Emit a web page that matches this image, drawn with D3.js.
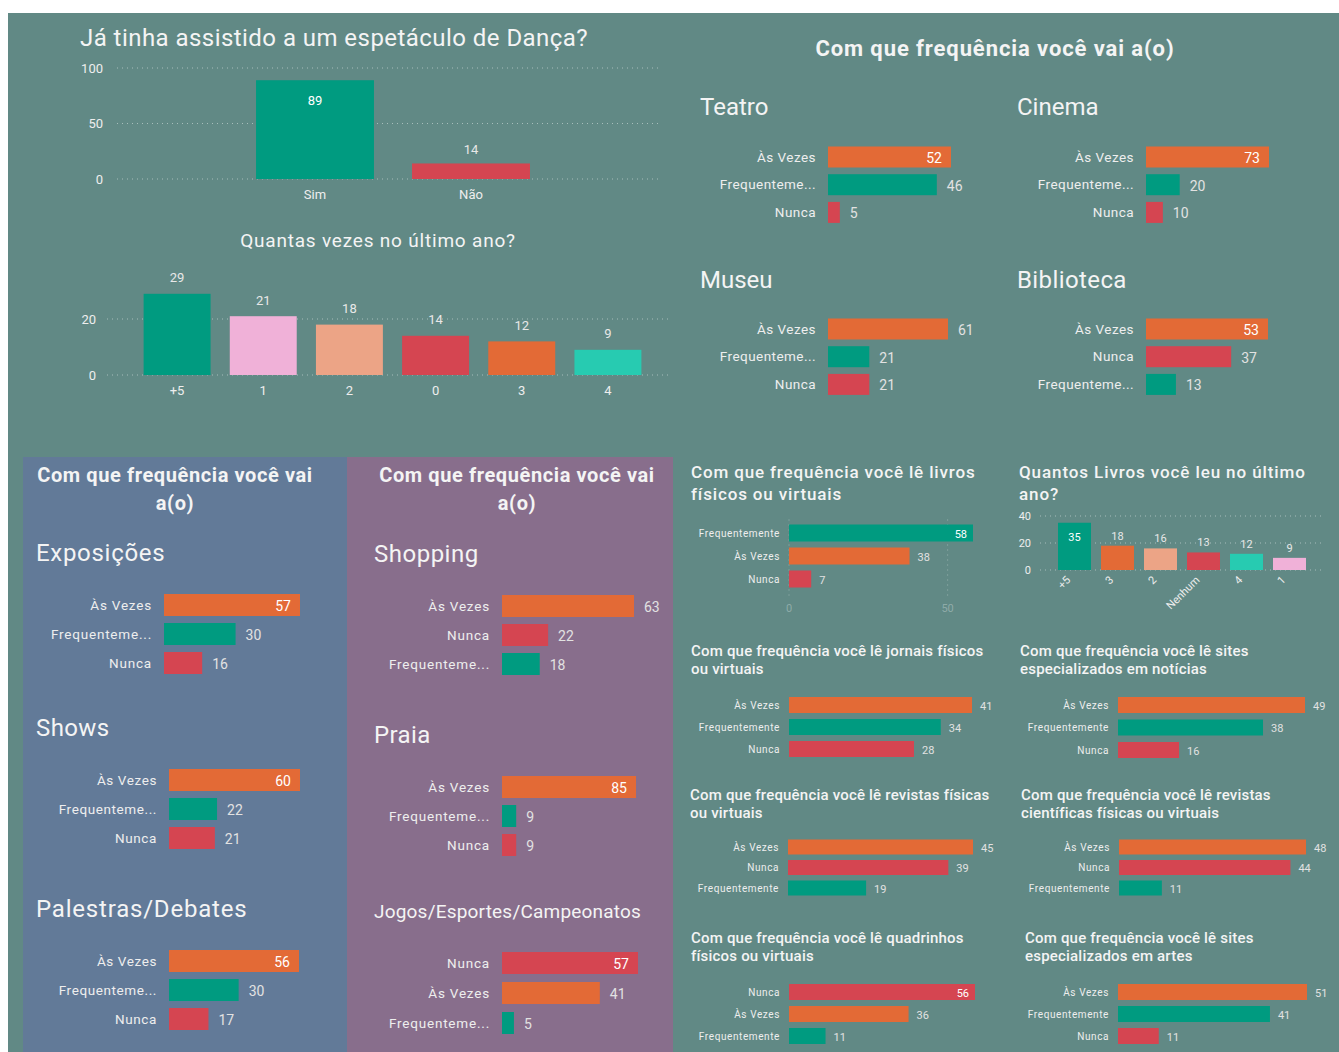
<!DOCTYPE html>
<html>
<head>
<meta charset="utf-8">
<script src="https://cdn.jsdelivr.net/npm/d3@7"></script>
<style>
  body { margin: 0; background: #fff; font-family: Roboto, "Noto Sans", sans-serif; }
  text { font-family: Roboto, "Noto Sans", sans-serif; }
</style>
</head>
<body>
<div id="dash"></div>
<script>
// ---- data ----
const dancaCats = ["Sim", "Não"];
const dancaVals = [89, 14];
const dancaTicks = [0, 50, 100];

const vezesCats = ["+5", "1", "2", "0", "3", "4"];
const vezesVals = [29, 21, 18, 14, 12, 9];
const vezesTicks = [0, 20];

const teatroCats = ["Às Vezes", "Frequenteme...", "Nunca"];
const teatroVals = [52, 46, 5];
const cinemaCats = ["Às Vezes", "Frequenteme...", "Nunca"];
const cinemaVals = [73, 20, 10];
const museuCats = ["Às Vezes", "Frequenteme...", "Nunca"];
const museuVals = [61, 21, 21];
const bibliotecaCats = ["Às Vezes", "Nunca", "Frequenteme..."];
const bibliotecaVals = [53, 37, 13];

const exposicoesCats = ["Às Vezes", "Frequenteme...", "Nunca"];
const exposicoesVals = [57, 30, 16];
const showsCats = ["Às Vezes", "Frequenteme...", "Nunca"];
const showsVals = [60, 22, 21];
const palestrasCats = ["Às Vezes", "Frequenteme...", "Nunca"];
const palestrasVals = [56, 30, 17];

const shoppingCats = ["Às Vezes", "Nunca", "Frequenteme..."];
const shoppingVals = [63, 22, 18];
const praiaCats = ["Às Vezes", "Frequenteme...", "Nunca"];
const praiaVals = [85, 9, 9];
const jogosCats = ["Nunca", "Às Vezes", "Frequenteme..."];
const jogosVals = [57, 41, 5];

const livrosCats = ["Frequentemente", "Às Vezes", "Nunca"];
const livrosVals = [58, 38, 7];
const livrosTicks = [0, 50];
const qtdLivrosCats = ["+5", "3", "2", "Nenhum", "4", "1"];
const qtdLivrosVals = [35, 18, 16, 13, 12, 9];
const qtdLivrosTicks = [0, 20, 40];
const jornaisCats = ["Às Vezes", "Frequentemente", "Nunca"];
const jornaisVals = [41, 34, 28];
const noticiasCats = ["Às Vezes", "Frequentemente", "Nunca"];
const noticiasVals = [49, 38, 16];
const revistasCats = ["Às Vezes", "Nunca", "Frequentemente"];
const revistasVals = [45, 39, 19];
const cientificasCats = ["Às Vezes", "Nunca", "Frequentemente"];
const cientificasVals = [48, 44, 11];
const quadrinhosCats = ["Nunca", "Às Vezes", "Frequentemente"];
const quadrinhosVals = [56, 36, 11];
const artesCats = ["Às Vezes", "Frequentemente", "Nunca"];
const artesVals = [51, 41, 11];

// ---- colours ----
const GREEN = "#009b80", ORANGE = "#e36a36", RED = "#d54551",
      PINK = "#f0b1d8", SALMON = "#eca486", TURQ = "#27cbb1";
const TXT = "#eeeeee";
function freqColor(c) {
  if (c.startsWith("Frequente")) return GREEN;
  if (c === "Nunca") return RED;
  return ORANGE;
}
const vezesColors = { "+5": GREEN, "1": PINK, "2": SALMON, "0": RED, "3": ORANGE, "4": TURQ };
const qtdColors = { "+5": GREEN, "3": ORANGE, "2": SALMON, "Nenhum": RED, "4": TURQ, "1": PINK };
const dancaColors = { "Sim": GREEN, "Não": RED };

const W = 1339, H = 1052;
const svg = d3.select("#dash").append("svg").attr("width", W).attr("height", H);

svg.append("rect").attr("width", W).attr("height", H).attr("fill", "#fff");
svg.append("rect").attr("x", 8).attr("y", 13).attr("width", W - 8).attr("height", H - 13).attr("fill", "#618985");
svg.append("rect").attr("x", 23).attr("y", 457).attr("width", 324).attr("height", H - 457).attr("fill", "#627a98");
svg.append("rect").attr("x", 347).attr("y", 457).attr("width", 326).attr("height", H - 457).attr("fill", "#886e8c");

function title(x, y, t, size, weight, anchor, ls) {
  svg.append("text").attr("x", x).attr("y", y).text(t)
    .attr("fill", "#f4f4f4").style("font-size", size + "px")
    .style("font-weight", weight || 400)
    .style("letter-spacing", (ls || 0) + "px")
    .attr("text-anchor", anchor || "start");
}

// horizontal bar chart (Power BI style)
function hbar(cats, vals, o) {
  const g = svg.append("g");
  const pad = 1 - o.bh / o.step;
  const y0 = o.c0 - o.step / 2;
  const y = d3.scaleBand().domain(cats)
    .range([y0, y0 + cats.length * o.step])
    .paddingInner(pad).paddingOuter(pad / 2);
  const x = d3.scaleLinear().domain([0, d3.max(vals)]).range([o.x0, o.x0 + o.w]);
  const fs = o.fs || 13.5;

  if (o.ticks) {
    o.ticks.forEach(function(t) {
      g.append("line").attr("x1", x(t)).attr("x2", x(t))
        .attr("y1", y0 - 2).attr("y2", y0 + cats.length * o.step + 6)
        .attr("stroke", "rgba(255,255,255,0.35)").attr("stroke-dasharray", "1,4");
      g.append("text").attr("x", x(t)).attr("y", y0 + cats.length * o.step + 21)
        .attr("text-anchor", "middle").style("font-size", "11px")
        .attr("fill", "rgba(255,255,255,0.3)").text(t);
    });
  }

  g.selectAll("rect.b").data(cats).enter().append("rect")
    .attr("x", x(0)).attr("y", function(d) { return y(d); })
    .attr("width", function(d, i) { return x(vals[i]) - x(0); })
    .attr("height", y.bandwidth())
    .attr("fill", function(d) { return freqColor(d); });

  g.selectAll("text.c").data(cats).enter().append("text")
    .attr("x", o.x0 - (o.gap || 12))
    .attr("y", function(d) { return y(d) + y.bandwidth() / 2; })
    .attr("dy", ".35em").attr("text-anchor", "end")
    .style("font-size", fs + "px")
    .style("letter-spacing", (o.ls === undefined ? 0.45 : o.ls) + "px")
    .attr("fill", TXT).text(function(d) { return d; });

  g.selectAll("text.v").data(cats).enter().append("text")
    .attr("x", function(d, i) {
      return (o.inside && i === 0) ? x(vals[i]) - (o.vin || 9) : x(vals[i]) + (o.vout || 10);
    })
    .attr("y", function(d) { return y(d) + y.bandwidth() / 2 + 1; })
    .attr("dy", ".35em")
    .attr("text-anchor", function(d, i) { return (o.inside && i === 0) ? "end" : "start"; })
    .style("font-size", (o.vfs || 14) + "px")
    .attr("fill", function(d, i) { return (o.inside && i === 0) ? "#ffffff" : "#e2e2e2"; })
    .text(function(d, i) { return vals[i]; });
}

// column chart
function vbar(cats, vals, colors, o) {
  const g = svg.append("g");
  const y = d3.scaleLinear().domain([0, o.tv]).range([o.base, o.ty]);
  const x = d3.scaleBand().domain(cats).range([o.x0, o.x1])
    .paddingInner(o.pad).paddingOuter(o.pad / 2);
  const fs = o.fs || 13;

  o.ticks.forEach(function(t) {
    g.append("line").attr("x1", o.gx0).attr("x2", o.gx1)
      .attr("y1", y(t)).attr("y2", y(t))
      .attr("stroke", "rgba(255,255,255,0.45)").attr("stroke-dasharray", "1,4");
    g.append("text").attr("x", o.tx).attr("y", y(t)).attr("dy", ".35em")
      .attr("text-anchor", "end").style("font-size", fs + "px")
      .attr("fill", TXT).text(t);
  });

  g.selectAll("rect").data(cats).enter().append("rect")
    .attr("x", function(d) { return x(d); })
    .attr("y", function(d, i) { return y(vals[i]); })
    .attr("width", x.bandwidth())
    .attr("height", function(d, i) { return y(0) - y(vals[i]); })
    .attr("fill", function(d) { return colors[d]; });

  g.selectAll("text.v").data(cats).enter().append("text")
    .attr("x", function(d) { return x(d) + x.bandwidth() / 2; })
    .attr("y", function(d, i) {
      return (o.inside && i === 0) ? y(vals[i]) + o.vin : y(vals[i]) - o.vout;
    })
    .attr("dy", ".35em").attr("text-anchor", "middle")
    .style("font-size", fs + "px")
    .attr("fill", function(d, i) { return (o.inside && i === 0) ? "#ffffff" : "#e8e8e8"; })
    .text(function(d, i) { return vals[i]; });

  const lab = g.selectAll("text.x").data(cats).enter().append("text")
    .style("font-size", fs + "px").attr("fill", TXT)
    .text(function(d) { return d; });
  if (o.rotate) {
    lab.attr("text-anchor", "end").attr("dy", ".35em")
      .attr("transform", function(d) {
        return "translate(" + (x(d) + x.bandwidth() / 2 - 6) + "," + (o.base + 8) + ") rotate(-45)";
      });
  } else {
    lab.attr("x", function(d) { return x(d) + x.bandwidth() / 2; })
      .attr("y", o.base + 15).attr("dy", ".35em").attr("text-anchor", "middle");
  }
}

// ---- top left ----
title(80, 46, "Já tinha assistido a um espetáculo de Dança?", 24, 400, "start", 0.45);
vbar(dancaCats, dancaVals, dancaColors, {
  tv: 100, base: 179, ty: 68, x0: 237, x1: 549, pad: 0.244,
  gx0: 117, gx1: 662, tx: 103, ticks: dancaTicks, inside: true, vin: 20, vout: 14
});

title(378, 247, "Quantas vezes no último ano?", 19, 400, "middle", 0.8);
vbar(vezesCats, vezesVals, vezesColors, {
  tv: 20, base: 375, ty: 319, x0: 134, x1: 651, pad: 0.223,
  gx0: 107, gx1: 672, tx: 96, ticks: vezesTicks, inside: false, vout: 16
});

// ---- top right ----
title(995, 56, "Com que frequência você vai a(o)", 22, 700, "middle", 0.9);
title(700, 115, "Teatro", 24);
title(1017, 115, "Cinema", 24);
title(700, 288, "Museu", 24);
title(1017, 288, "Biblioteca", 24, 400, "start", 0.4);
hbar(teatroCats, teatroVals, { x0: 828, c0: 157, step: 27.7, bh: 21, w: 123, inside: true });
hbar(cinemaCats, cinemaVals, { x0: 1146, c0: 157, step: 27.7, bh: 21, w: 123, inside: true });
hbar(museuCats, museuVals, { x0: 828, c0: 329, step: 27.7, bh: 21, w: 120, inside: false });
hbar(bibliotecaCats, bibliotecaVals, { x0: 1146, c0: 329, step: 27.7, bh: 21, w: 122, inside: true });

// ---- bottom left panels ----
title(175, 482, "Com que frequência você vai", 20, 700, "middle", 0.6);
title(175, 510, "a(o)", 20, 700, "middle", 0.6);
title(517, 482, "Com que frequência você vai", 20, 700, "middle", 0.6);
title(517, 510, "a(o)", 20, 700, "middle", 0.6);

title(36, 561, "Exposições", 24, 400, "start", 0.7);
title(36, 736, "Shows", 24, 400, "start", 0.4);
title(36, 917, "Palestras/Debates", 24, 400, "start", 0.8);
hbar(exposicoesCats, exposicoesVals, { x0: 164, c0: 605, step: 29, bh: 22, w: 136, inside: true, ls: 0.8 });
hbar(showsCats, showsVals, { x0: 169, c0: 780, step: 29, bh: 22, w: 131, inside: true, ls: 0.6 });
hbar(palestrasCats, palestrasVals, { x0: 169, c0: 961, step: 29, bh: 22, w: 130, inside: true, ls: 0.6 });

title(374, 562, "Shopping", 24, 400, "start", 0.5);
title(374, 743, "Praia", 24, 400, "start", 0.4);
title(374, 918, "Jogos/Esportes/Campeonatos", 19, 400, "start", 0.2);
hbar(shoppingCats, shoppingVals, { x0: 502, c0: 606, step: 29, bh: 22, w: 132, inside: false, ls: 0.8 });
hbar(praiaCats, praiaVals, { x0: 502, c0: 787, step: 29, bh: 22, w: 134, inside: true, ls: 0.8 });
hbar(jogosCats, jogosVals, { x0: 502, c0: 963, step: 30, bh: 22, w: 136, inside: true, ls: 0.8 });

// ---- bottom right small charts ----
const small = { fs: 10, ls: 0.6, gap: 9, vfs: 11, vin: 6, vout: 8 };
function smallOpts(extra) { return Object.assign({}, small, extra); }

title(691, 478, "Com que frequência você lê livros", 17, 500, "start", 0.85);
title(691, 500, "físicos ou virtuais", 17, 500, "start", 0.85);
hbar(livrosCats, livrosVals, smallOpts({ x0: 789, c0: 533, step: 23, bh: 17, w: 184, inside: true, ticks: livrosTicks }));

title(1019, 478, "Quantos Livros você leu no último", 17, 500, "start", 0.9);
title(1019, 500, "ano?", 17, 500, "start", 0.9);
vbar(qtdLivrosCats, qtdLivrosVals, qtdColors, {
  tv: 40, base: 570, ty: 516, x0: 1053, x1: 1311, pad: 0.233,
  gx0: 1040, gx1: 1325, tx: 1031, ticks: qtdLivrosTicks, inside: true, vin: 14, vout: 10,
  fs: 11, rotate: true
});

title(691, 656, "Com que frequência você lê jornais físicos", 15, 500, "start", 0.2);
title(691, 674, "ou virtuais", 15, 500, "start", 0.2);
hbar(jornaisCats, jornaisVals, smallOpts({ x0: 789, c0: 705, step: 22, bh: 16, w: 183, inside: false }));

title(1020, 656, "Com que frequência você lê sites", 15, 500, "start", 0.2);
title(1020, 674, "especializados em notícias", 15, 500, "start", 0.2);
hbar(noticiasCats, noticiasVals, smallOpts({ x0: 1118, c0: 705, step: 22.5, bh: 16, w: 187, inside: false }));

title(690, 800, "Com que frequência você lê revistas físicas", 15, 500, "start", 0.2);
title(690, 818, "ou virtuais", 15, 500, "start", 0.2);
hbar(revistasCats, revistasVals, smallOpts({ x0: 788, c0: 847, step: 20.5, bh: 15, w: 185, inside: false }));

title(1021, 800, "Com que frequência você lê revistas", 15, 500, "start", 0.2);
title(1021, 818, "científicas físicas ou virtuais", 15, 500, "start", 0.2);
hbar(cientificasCats, cientificasVals, smallOpts({ x0: 1119, c0: 847, step: 20.5, bh: 15, w: 187, inside: false }));

title(691, 943, "Com que frequência você lê quadrinhos", 15, 500, "start", 0.2);
title(691, 961, "físicos ou virtuais", 15, 500, "start", 0.2);
hbar(quadrinhosCats, quadrinhosVals, smallOpts({ x0: 789, c0: 992, step: 22, bh: 16, w: 186, inside: true }));

title(1025, 943, "Com que frequência você lê sites", 15, 500, "start", 0.2);
title(1025, 961, "especializados em artes", 15, 500, "start", 0.2);
hbar(artesCats, artesVals, smallOpts({ x0: 1118, c0: 992, step: 22, bh: 16, w: 189, inside: false }));
</script>
</body>
</html>
